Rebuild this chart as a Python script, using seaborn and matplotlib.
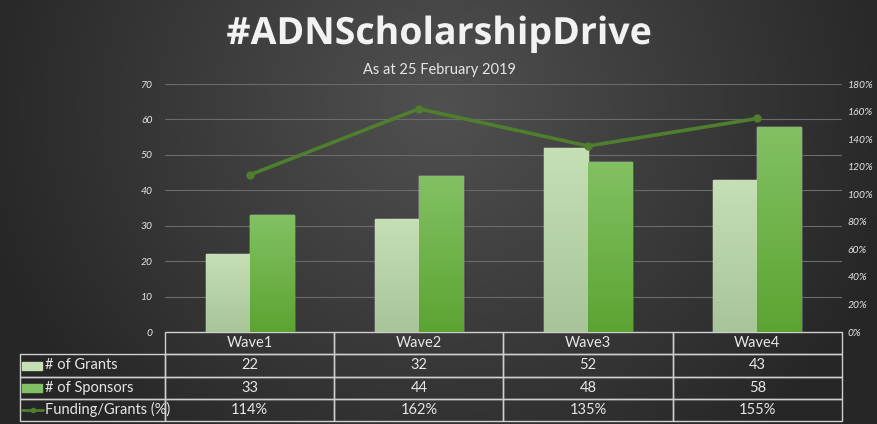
import numpy as np
import pandas as pd
import matplotlib
matplotlib.use("Agg")
import matplotlib.pyplot as plt
import seaborn as sns
import matplotlib.patheffects as pe
from matplotlib.patches import Rectangle
from matplotlib.lines import Line2D
from matplotlib.colors import LinearSegmentedColormap

# DATA
waves = ["Wave1", "Wave2", "Wave3", "Wave4"]
grants = [22, 32, 52, 43]
sponsors = [33, 44, 48, 58]
funding_pct = [114, 162, 135, 155]
left_ticks = [0, 10, 20, 30, 40, 50, 60, 70]
right_ticks = [0, 20, 40, 60, 80, 100, 120, 140, 160, 180]

GRANTS_TOP, GRANTS_BOT = "#c6dfb5", "#a7c599"
SPONS_TOP, SPONS_BOT = "#82c163", "#5ca432"
LINE_COLOR = "#4f7e2e"
TEXT_COLOR = "#e6e6e6"
GRID_COLOR = "#6b6b6b"

sns.set_theme(style="white")
plt.rcParams["font.family"] = ["Lato", "DejaVu Sans"]

W, H = 878, 424
fig = plt.figure(figsize=(W / 100, H / 100), dpi=100)

# background gradient
bg = fig.add_axes([0, 0, 1, 1], zorder=-10)
yy, xx = np.mgrid[0:H, 0:W]
r = np.sqrt(((xx - W * 0.5) / (W * 0.62)) ** 2 + ((yy - H * 0.25) / (H * 1.2)) ** 2)
shade = np.clip(0.315 - 0.19 * r, 0.15, 0.33)
bg.imshow(np.dstack([shade] * 3), aspect="auto", extent=[0, 1, 0, 1])
bg.set_axis_off()

# main axes
x0, x1 = 165 / W, 842 / W
y_bot, y_top = 1 - 332 / H, 1 - 84 / H
ax = fig.add_axes([x0, y_bot, x1 - x0, y_top - y_bot])
ax.set_facecolor("none")

df = pd.DataFrame({
    "Wave": waves * 2,
    "Series": ["# of Grants"] * 4 + ["# of Sponsors"] * 4,
    "Value": grants + sponsors,
})

sns.barplot(
    data=df,
    x="Wave",
    y="Value",
    hue="Series",
    palette=[GRANTS_TOP, SPONS_TOP],
    width=0.52,
    gap=0,
    legend=False,
    ax=ax,
    zorder=3
)

# gradient fill inside the bars
for i, patch in enumerate(ax.patches):
    top_c, bot_c = (GRANTS_TOP, GRANTS_BOT) if i < 4 else (SPONS_TOP, SPONS_BOT)
    patch.set_path_effects([pe.SimplePatchShadow(offset=(2, -1), alpha=0.35), pe.Normal()])
    cmap = LinearSegmentedColormap.from_list("g", [bot_c, top_c])
    bx, by = patch.get_x(), patch.get_y()
    bw, bh = patch.get_width(), patch.get_height()
    img = ax.imshow(
        np.linspace(0, 1, 100).reshape(-1, 1),
        cmap=cmap,
        origin="lower",
        extent=[bx, bx + bw, by, by + bh],
        aspect="auto",
        zorder=3.5
    )
    img.set_clip_path(patch)

ax.set_xlim(-0.5, 3.5)
ax.set_ylim(0, 70)
ax.set_yticks(left_ticks)
ax.yaxis.grid(True, color=GRID_COLOR, linewidth=0.8, zorder=0)
ax.set_xticks([])
ax.set_xlabel("")
ax.set_ylabel("")
for s in ax.spines.values():
    s.set_visible(False)
ax.tick_params(axis="y", length=0, pad=9, labelsize=7.5, labelcolor=TEXT_COLOR)
for lab in ax.get_yticklabels():
    lab.set_fontstyle("italic")

# secondary axis
ax2 = ax.twinx()
ax2.set_facecolor("none")
ax2.plot(
    range(len(waves)),
    np.array(funding_pct) / 100,
    color=LINE_COLOR,
    linewidth=2.6,
    marker="o",
    markersize=5,
    zorder=5
)
ax2.set_ylim(0, 1.8)
ax2.set_yticks(np.array(right_ticks) / 100)
ax2.set_yticklabels([f"{t}%" for t in right_ticks])
for s in ax2.spines.values():
    s.set_visible(False)
ax2.tick_params(axis="y", length=0, pad=4, labelsize=7.5, labelcolor=TEXT_COLOR)
for lab in ax2.get_yticklabels():
    lab.set_fontstyle("italic")
ax2.grid(False)

# data table
cell_text = [
    [str(v) for v in grants],
    [str(v) for v in sponsors],
    [f"{v}%" for v in funding_pct],
]
row_labels = ["# of Grants", "# of Sponsors", "Funding/Grants (%)"]
tbl = ax.table(
    cellText=cell_text,
    rowLabels=row_labels,
    colLabels=waves,
    colWidths=[0.25] * 4,
    cellLoc="center",
    rowLoc="left",
    bbox=[0, (332 - 421) / 248, 1, (421 - 332) / 248],
)
tbl._autoColumns = []
tbl.auto_set_font_size(False)
for (r, c), cell in tbl.get_celld().items():
    cell.set_facecolor("none")
    cell.set_edgecolor("#cfcfcf")
    cell.set_linewidth(1)
    cell.get_text().set_color(TEXT_COLOR)
    cell.get_text().set_fontsize(10.5)
    if c == -1:
        cell.set_width(145 / 677)
        cell.PAD = 0.17

# legend keys in the table
fig.add_artist(Rectangle((22 / W, 1 - 370 / H), 20 / W, 8 / H,
                         transform=fig.transFigure, color=GRANTS_TOP))
fig.add_artist(Rectangle((22 / W, 1 - 392 / H), 20 / W, 8 / H,
                         transform=fig.transFigure, color=SPONS_TOP))
fig.add_artist(Line2D([22 / W, 33 / W, 43 / W], [1 - 410 / H] * 3, transform=fig.transFigure,
                      color=LINE_COLOR, linewidth=2, marker="o", markersize=3,
                      markevery=[1], markerfacecolor=LINE_COLOR))

# titles
fig.text(0.5, 1 - 34 / H, "#ADNScholarshipDrive", ha="center", va="center",
         fontsize=27, fontweight="bold", color="#f2f2f2", family=["Open Sans", "DejaVu Sans"],
         path_effects=[pe.withSimplePatchShadow(offset=(1, -1), alpha=0.4)])
fig.text(0.5, 1 - 70 / H, "As at 25 February 2019", ha="center", va="center",
         fontsize=10.5, color=TEXT_COLOR)

fig.savefig("out.png", dpi=100)
